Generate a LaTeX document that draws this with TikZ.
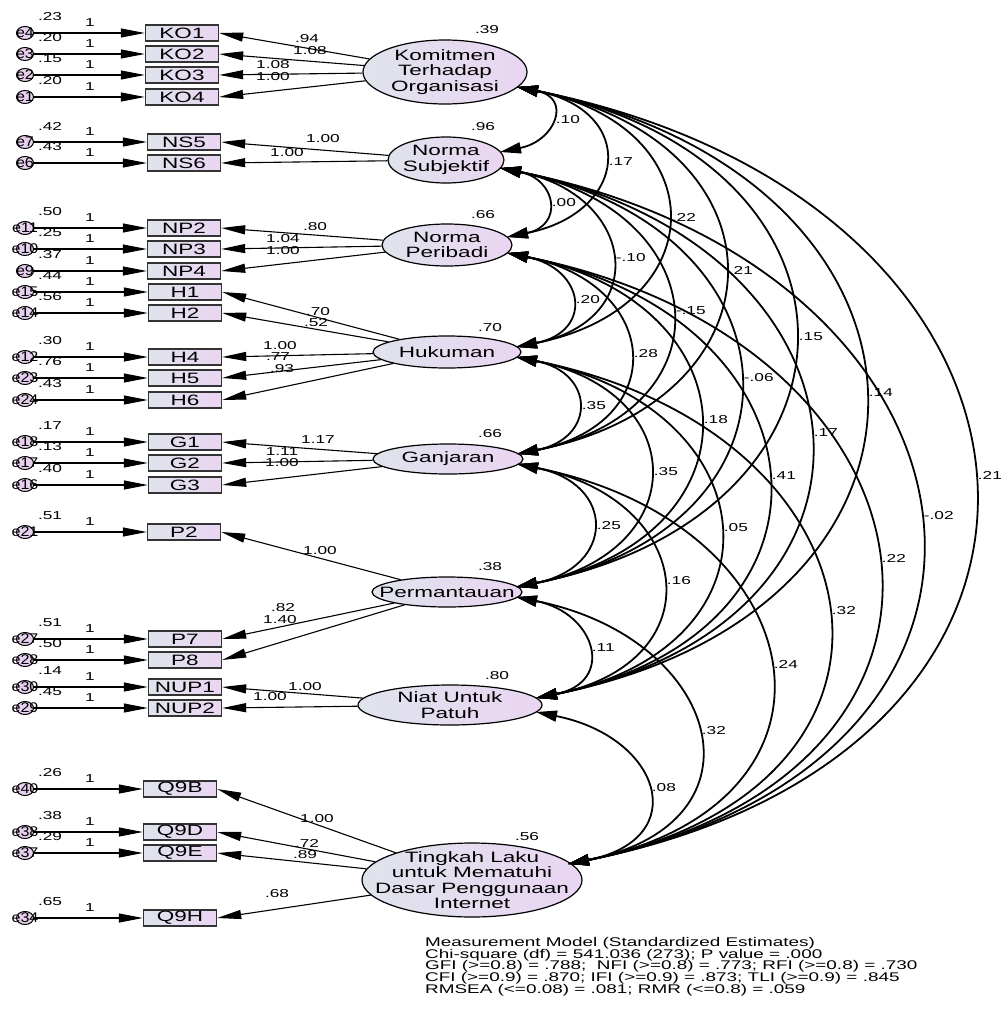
\documentclass[tikz,border=0pt]{standalone}
\usepackage{fontspec}
\setmainfont{Liberation Sans}[FakeStretch=1.5]
\newfontfamily\errfont{Liberation Sans}[FakeStretch=1.15]
\usetikzlibrary{arrows.meta,shapes.geometric,calc}
\definecolor{lblue}{HTML}{DFE3EC}
\definecolor{lpurp}{HTML}{EAD5F2}
\definecolor{epink}{HTML}{E6D0EE}
\newcommand\covar[4]{%
  \draw[covl] let \p1=(#1), \p2=(#2), \n1={(#3pt - 0.5*\x1 - 0.5*\x2)/0.75} in
   (\p1) .. controls ({\x1+\n1},{\y1-0.2*\n1}) and ({\x2+\n1},{\y2+0.2*\n1}) .. (\p2)
   node[num, pos=0.5, anchor=west, xshift=5pt] {#4};}
\begin{document}
\begin{tikzpicture}[x=1pt,y=-1pt,
  obs/.style={draw=black!80, line width=1.4pt, left color=lblue, right color=lpurp,
    minimum width=73pt, minimum height=16pt, inner sep=0pt, font=\fontsize{15}{15}\selectfont},
  err/.style={ellipse, draw=black, line width=1pt, fill=epink, minimum width=17pt,
    minimum height=13pt, inner sep=0pt},
  errlab/.style={font=\errfont\fontsize{14}{14}\selectfont, inner sep=0pt},
  lat/.style={ellipse, draw=black, line width=1.2pt, left color=lblue, right color=lpurp, inner sep=0pt},
  lattxt/.style={align=center, font=\fontsize{15}{15.5}\selectfont, inner sep=0pt},
  num/.style={font=\fontsize{11.5}{11.5}\selectfont, inner sep=0pt},
  load/.style={line width=1.1pt, -{Triangle[length=24pt,width=9pt]}},
  covl/.style={line width=1.8pt, {Triangle[length=21pt,width=11pt]}-{Triangle[length=21pt,width=11pt]}},
]
\fill[white] (0,0) rectangle (1004,1012);
\useasboundingbox (0,0) rectangle (1004,1012);

% observed variables with their errors
\foreach \nm/\bx/\by/\e/\vv in {
  KO1/182/33/e4/.23, KO2/182/54/e3/.20, KO3/182/75/e2/.15, KO4/182/97/e1/.20,
  NS5/184/142/e7/.42, NS6/184/163/e6/.43,
  NP2/184/228/e11/.50, NP3/184/249/e10/.25, NP4/184/271/e9/.37,
  H1/185/292/e15/.44, H2/185/313/e14/.56, H4/185/357/e12/.30, H5/185/378/e23/.76, H6/185/400/e24/.43,
  G1/185/442/e18/.17, G2/185/463/e17/.13, G3/185/485/e16/.40,
  P2/184/532/e21/.51, P7/185/639/e27/.51, P8/185/660/e28/.50,
  NUP1/185/687/e30/.14, NUP2/185/708/e29/.45,
  Q9B/180/789/e40/.26, Q9D/180/832/e38/.38, Q9E/180/853/e37/.29, Q9H/180/918/e34/.65}{
  \node[obs] (\nm) at (\bx,\by) {\nm};
  \node[err, label={[errlab]center:\e}] (\e) at (25,\by) {};
  \draw[load] (\e) -- (\nm.west);
  \node[num] at (50,\by-16) {\vv};
  \node[num] at (90,\by-10) {1};
}

% latent variables
\node[lat, minimum width=164pt, minimum height=64pt] (KO) at (445,72) {};
\node[lattxt] at (KO) {Komitmen\\Terhadap\\Organisasi};
\node[lat, minimum width=116pt, minimum height=46pt] (NS) at (446,160) {};
\node[lattxt] at (NS) {Norma\\Subjektif};
\node[lat, minimum width=130pt, minimum height=42pt] (NP) at (447,245) {};
\node[lattxt] at (NP) {Norma\\Peribadi};
\node[lat, minimum width=148pt, minimum height=32pt] (H) at (447,352) {};
\node[lattxt] at (H) {Hukuman};
\node[lat, minimum width=150pt, minimum height=30pt] (G) at (448,459) {};
\node[lattxt] at (G) {Ganjaran};
\node[lat, minimum width=150pt, minimum height=30pt] (P) at (447,592) {};
\node[lattxt] at (P) {Permantauan};
\node[lat, minimum width=184pt, minimum height=40pt] (N) at (450,705) {};
\node[lattxt] at (N) {Niat Untuk\\Patuh};
\node[lat, minimum width=220pt, minimum height=74pt] (T) at (472,880) {};
\node[lattxt] at (T) {Tingkah Laku\\untuk Mematuhi\\Dasar Penggunaan\\Internet};

% latent variances
\node[num] at (487,30) {.39};
\node[num] at (483,127) {.96};
\node[num] at (483,215) {.66};
\node[num] at (490,328) {.70};
\node[num] at (490,434) {.66};
\node[num] at (490,567) {.38};
\node[num] at (497,676) {.80};
\node[num] at (527,837) {.56};

% loadings
\foreach \l/\o in {KO/KO1, KO/KO2, KO/KO3, KO/KO4, NS/NS5, NS/NS6,
  NP/NP2, NP/NP3, NP/NP4, H/H1, H/H2, H/H4, H/H5, H/H6, G/G1, G/G2, G/G3,
  P/P2, P/P7, P/P8, N/NUP1, N/NUP2, T/Q9B, T/Q9D, T/Q9E, T/Q9H}{
  \draw[load] (\l) -- (\o.east);
}
\foreach \lx/\ly/\t in {307/39/.94, 310/51/1.08, 273/65/1.08, 273/77/1.00,
  323/139/1.00, 287/153/1.00,
  315/227/.80, 283/239/1.04, 283/251/1.00,
  318/312/.70, 316/323/.52, 280/346/1.00, 278/357/.77, 282/369/.93,
  318/440/1.17, 282/452/1.11, 282/463/1.00,
  320/551/1.00, 283/608/.82, 280/620/1.40,
  305/687/1.00, 270/697/1.00,
  317/819/1.00, 307/843/.72, 305/855/.89, 277/894/.68}{
  \node[num] at (\lx,\ly) {\t};
}

% attachment points of covariance arcs
\coordinate (KOb) at ([shift={(72,15)}]KO.center);
\coordinate (NSa) at ([shift={(54,-8)}]NS.center);
\coordinate (NSb) at ([shift={(54,8)}]NS.center);
\coordinate (NPa) at ([shift={(60,-8)}]NP.center);
\coordinate (NPb) at ([shift={(60,8)}]NP.center);
\coordinate (Ha) at ([shift={(69,-5)}]H.center);
\coordinate (Hb) at ([shift={(69,5)}]H.center);
\coordinate (Ga) at ([shift={(69,-5)}]G.center);
\coordinate (Gb) at ([shift={(69,5)}]G.center);
\coordinate (Pa) at ([shift={(69,-5)}]P.center);
\coordinate (Pb) at ([shift={(69,5)}]P.center);
\coordinate (Na) at ([shift={(86,-7)}]N.center);
\coordinate (Nb) at ([shift={(86,7)}]N.center);
\coordinate (Ta) at ([shift={(96,-16)}]T.center);

% covariances
\covar{KOb}{NSa}{550}{.10}
\covar{KOb}{NPa}{603}{.17}
\covar{KOb}{Ha}{666}{.22}
\covar{KOb}{Ga}{723}{.21}
\covar{KOb}{Pa}{793}{.15}
\covar{KOb}{Na}{863}{.14}
\covar{KOb}{Ta}{972}{.21}
\covar{NSb}{NPa}{546}{.00}
\covar{NSb}{Ha}{610}{-.10}
\covar{NSb}{Ga}{670}{-.15}
\covar{NSb}{Pa}{738}{-.06}
\covar{NSb}{Na}{808}{.17}
\covar{NSb}{Ta}{918}{-.02}
\covar{NPb}{Ha}{570}{.20}
\covar{NPb}{Ga}{628}{.28}
\covar{NPb}{Pa}{698}{.18}
\covar{NPb}{Na}{766}{.41}
\covar{NPb}{Ta}{876}{.22}
\covar{Hb}{Ga}{576}{.35}
\covar{Hb}{Pa}{648}{.35}
\covar{Hb}{Na}{718}{.05}
\covar{Hb}{Ta}{826}{.32}
\covar{Gb}{Pa}{591}{.25}
\covar{Gb}{Na}{661}{.16}
\covar{Gb}{Ta}{768}{.24}
\covar{Pb}{Na}{586}{.11}
\covar{Pb}{Ta}{696}{.32}
\covar{Nb}{Ta}{646}{.08}

% fit statistics
\node[anchor=north west, align=left, inner sep=0pt, font=\fontsize{12.6}{11.8}\selectfont] (stats) at (425,937)
  {Measurement Model (Standardized Estimates)\\
   Chi-square (df) = 541.036 (273); P value = .000\\
   GFI (>=0.8) = .788;\ \ NFI (>=0.8) = .773; RFI (>=0.8) = .730\\
   CFI (>=0.9) = .870; IFI (>=0.9) = .873; TLI (>=0.9) = .845\\
   RMSEA (<=0.08) = .081; RMR (<=0.8) = .059};
\end{tikzpicture}
\end{document}
